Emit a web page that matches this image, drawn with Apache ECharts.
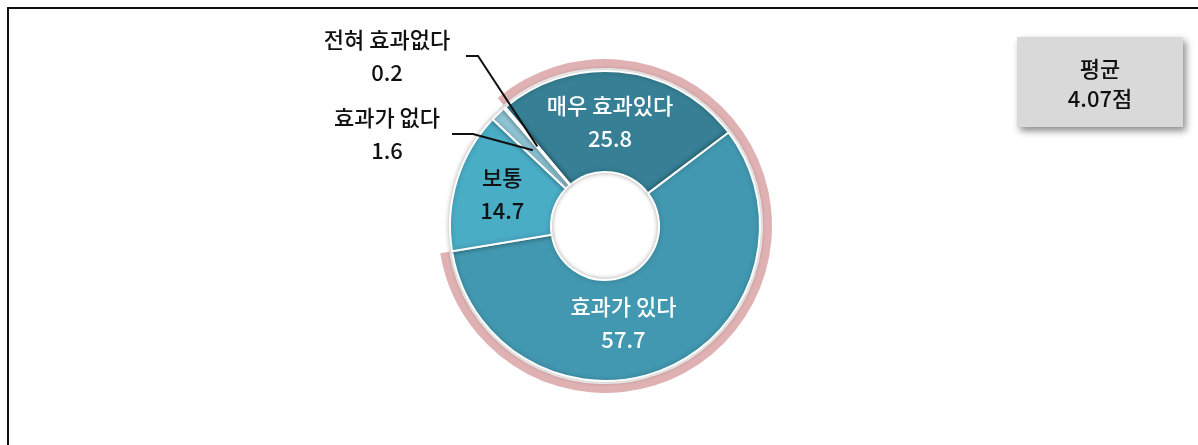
<!DOCTYPE html>
<html>
<head>
<meta charset="utf-8">
<script src="https://cdn.jsdelivr.net/npm/echarts@6/dist/echarts.min.js"></script>
<style>
  html, body { margin: 0; padding: 0; background: #fff; }
  #frame { position: absolute; left: 7px; top: 7px; width: 1300px; height: 500px;
           border-left: 2px solid #111; border-top: 2px solid #111; }
  #chart { position: absolute; left: 0; top: 0; width: 1198px; height: 445px; }
</style>
</head>
<body>
<div id="frame"></div>
<div id="chart"></div>
<script>
// ---- data ----
const categories = ['매우 효과있다', '효과가 있다', '보통', '효과가 없다', '전혀 효과없다'];
const values = [25.8, 57.7, 14.7, 1.6, 0.2];
const sliceColors = ['#367f94', '#4298b0', '#4aadc6', '#8ec4d4', '#b9dde8'];
const positiveCount = 2; // first two categories are "positive"
const averageLabel = '평균';
const averageScore = 4.07;
const averageUnit = '점';

// ---- layout constants ----
const CX = 605, CY = 226, R0 = 54, R1 = 155;
const FONT = '"Noto Sans CJK KR", "Noto Sans", sans-serif';
const FS = 22, FW = 500;

const positiveSum = values.slice(0, positiveCount).reduce((a, b) => a + b, 0);
const total = values.reduce((a, b) => a + b, 0);
const isOutside = i => i >= 3;

const pieData = categories.map((c, i) => ({
  name: c,
  value: values[i],
  itemStyle: { color: sliceColors[i] },
  label: {
    show: !isOutside(i),
    color: i < 2 ? '#ffffff' : '#111111'
  }
}));

// overlay series carrying the outside labels + guide lines (drawn above the slices)
const overlayData = categories.map((c, i) => ({
  name: c,
  value: values[i],
  label: { show: isOutside(i) },
  labelLine: { show: isOutside(i) }
}));

// outside label placement (label center x, y) and elbow for guide lines
const outsidePlacement = {
  3: { x: 387, y: 134, ex: 452, bx: 473 },
  4: { x: 387, y: 56, ex: 466, bx: 478 }
};
const insideShift = { 0: [-7, 3], 1: [-24, -2], 2: [0, 0] };

const labelFormatter = p => p.name + '\n' + p.value.toFixed(1);

const chart = echarts.init(document.getElementById('chart'), null, { renderer: 'canvas' });

chart.setOption({
  animation: false,
  backgroundColor: 'transparent',
  series: [
    {
      type: 'pie',
      silent: true,
      center: [CX, CY],
      radius: [158, 167],
      startAngle: 130,
      clockwise: true,
      z: 1,
      label: { show: false },
      labelLine: { show: false },
      data: [
        { value: positiveSum, itemStyle: { color: '#dfb1b2' } },
        { value: total - positiveSum, itemStyle: { color: 'rgba(0,0,0,0)' } }
      ]
    },
    {
      type: 'pie',
      center: [CX, CY],
      radius: [R0, R1],
      startAngle: 130,
      clockwise: true,
      avoidLabelOverlap: false,
      z: 2,
      itemStyle: {
        borderColor: '#ffffff',
        borderWidth: 2,
        shadowBlur: 5,
        shadowColor: 'rgba(0,0,0,0.28)'
      },
      label: {
        position: 'inside',
        formatter: labelFormatter,
        fontFamily: FONT,
        fontSize: FS,
        fontWeight: FW,
        lineHeight: 33,
        align: 'center'
      },
      labelLine: { show: false },
      labelLayout: function (params) {
        const s = insideShift[params.dataIndex];
        return s ? { dx: s[0], dy: s[1] } : {};
      },
      data: pieData
    },
    {
      type: 'pie',
      silent: true,
      center: [CX, CY],
      radius: [R0, R1],
      startAngle: 130,
      clockwise: true,
      avoidLabelOverlap: false,
      z: 5,
      itemStyle: { color: 'rgba(0,0,0,0)', borderWidth: 0 },
      label: {
        position: 'outside',
        formatter: labelFormatter,
        fontFamily: FONT,
        fontSize: FS,
        fontWeight: FW,
        lineHeight: 33,
        color: '#111',
        align: 'center'
      },
      labelLine: {
        showAbove: true,
        lineStyle: { color: '#111', width: 2 },
        smooth: false
      },
      labelLayout: function (params) {
        const i = params.dataIndex;
        const pl = outsidePlacement[i];
        if (!pl || !params.labelLinePoints) return {};
        const p0 = params.labelLinePoints[0];
        const rMid = (R0 + R1) / 2;
        const dx = p0[0] - CX, dy = p0[1] - CY;
        const rr = Math.sqrt(dx * dx + dy * dy) || 1;
        const s = [CX + dx * rMid / rr, CY + dy * rMid / rr];
        return {
          x: pl.x,
          y: pl.y,
          align: 'center',
          verticalAlign: 'middle',
          labelLinePoints: [s, [pl.bx, pl.y], [pl.ex, pl.y]]
        };
      },
      data: overlayData
    }
  ],
  graphic: [
    {
      type: 'rect',
      left: 1017,
      top: 37,
      shape: { width: 166, height: 90 },
      style: {
        fill: '#d9d9d9',
        shadowBlur: 7,
        shadowOffsetX: 3,
        shadowOffsetY: 4,
        shadowColor: 'rgba(0,0,0,0.45)'
      },
      z: 10
    },
    {
      type: 'text',
      x: 1100,
      y: 84,
      z: 11,
      style: {
        text: averageLabel + '\n' + averageScore.toFixed(2) + averageUnit,
        fontFamily: FONT,
        fontSize: FS,
        fontWeight: FW,
        lineHeight: 30,
        fill: '#111',
        align: 'center',
        verticalAlign: 'middle'
      }
    }
  ]
});
</script>
</body>
</html>
